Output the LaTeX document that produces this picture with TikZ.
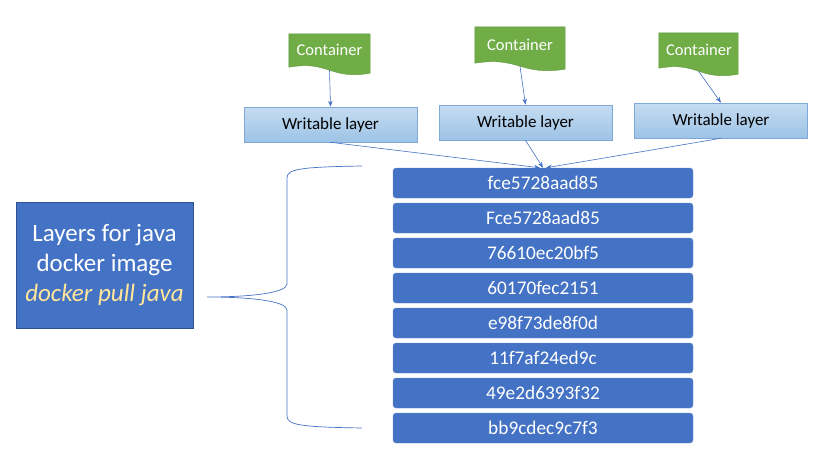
\documentclass[tikz,border=0pt]{standalone}
\usepackage{fontspec}
\setmainfont{Carlito}
\usetikzlibrary{arrows.meta,shadings}
\definecolor{accblue}{HTML}{4472C4}
\definecolor{darkblue}{HTML}{2F528F}
\definecolor{accgreen}{HTML}{70AD47}
\definecolor{greenedge}{HTML}{5E9A3A}
\definecolor{wltop}{HTML}{C5DCF1}
\definecolor{wlbot}{HTML}{9DC3E6}
\definecolor{wledge}{HTML}{7FA7D9}
\definecolor{gold}{HTML}{FFE699}
\tikzset{
  contnode/.style={minimum width=#1, inner sep=0pt},
  conttext/.style={text=white, inner sep=0pt, font=\fontsize{16.5}{19}\selectfont},
  wlayer/.style={draw=wledge, line width=0.6pt, top color=wltop, bottom color=wlbot,
    minimum width=173, minimum height=35, inner sep=0pt, font=\fontsize{17}{20}\selectfont},
  hashbox/.style={fill=accblue, draw=accblue!80!white, rounded corners=3pt, minimum width=300,
    minimum height=30, inner sep=0pt, text=white, font=\fontsize{19.3}{22}\selectfont},
  conn/.style={draw=accblue, line width=0.6pt, -{Stealth[length=6pt,width=4.5pt]}},
  bigbox/.style={fill=accblue, draw=darkblue, line width=0.8pt, minimum width=177, minimum height=126,
    inner sep=0pt, text=white, align=center, font=\fontsize{25}{30}\selectfont}
}
\begin{document}
\begin{tikzpicture}[x=1pt,y=-1pt]
\useasboundingbox (0,0) rectangle (836,474);
% containers
\node[contnode=81, minimum height=36] (c1) at (329.5,52) {};
\node[contnode=90, minimum height=39] (c2) at (520,46.5) {};
\node[contnode=79, minimum height=38] (c3) at (698.5,52) {};
\foreach \c in {c1,c2,c3}{
  \fill[accgreen, draw=greenedge, line width=0.4pt] (\c.north west) -- (\c.north east) -- ([yshift=-3]\c.south east)
    .. controls ([yshift=-10]\c.south) and ([yshift=10]\c.south) .. ([yshift=3]\c.south west) -- cycle;
}
\node[conttext] (t1) at (329.5,49.5) {Container};
\node[conttext] (t2) at (520,44.5) {Container};
\node[conttext] (t3) at (699,49.5) {Container};
% writable layers
\node[wlayer] (w1) at (330.5,124.5) {Writable layer};
\node[wlayer] (w2) at (525.5,122.5) {Writable layer};
\node[wlayer] (w3) at (721,120.5) {Writable layer};
\draw[conn] (c1.south) -- (w1.north);
\draw[conn] (c2.south) -- (w2.north);
\draw[conn] (c3.south) -- (w3.north);
% hash stack
\node[hashbox] (L1) at (543,183) {fce5728aad85};
\node[hashbox] (L2) at (543,218) {Fce5728aad85};
\node[hashbox] (L3) at (543,253) {76610ec20bf5};
\node[hashbox] (L4) at (543,288) {60170fec2151};
\node[hashbox] (L5) at (543,323) {e98f73de8f0d};
\node[hashbox] (L6) at (543,358) {11f7af24ed9c};
\node[hashbox] (L7) at (543,393) {49e2d6393f32};
\node[hashbox] (L8) at (543,428) {bb9cdec9c7f3};
\draw[conn] (w1.south) -- ([xshift=-3]L1.north);
\draw[conn] (w2.south) -- ([xshift=0]L1.north);
\draw[conn] (w3.south) -- ([xshift=3]L1.north);
% left box
\node[bigbox] (img) at (104.5,265) {Layers for java\\docker image\\\textcolor{gold}{\itshape docker pull java}};
% brace
\coordinate (bt) at (362,166);
\coordinate (bb) at (362,428);
\coordinate (tip) at (207,297);
\draw[accblue, line width=0.7pt] (bt) .. controls (300,167) and (287,169) .. (287,178) -- (287,284)
  .. controls (287,293) and (250,297) .. (tip)
  .. controls (250,297) and (287,301) .. (287,310) -- (287,416)
  .. controls (287,425) and (300,427) .. (bb);
\end{tikzpicture}
\end{document}
